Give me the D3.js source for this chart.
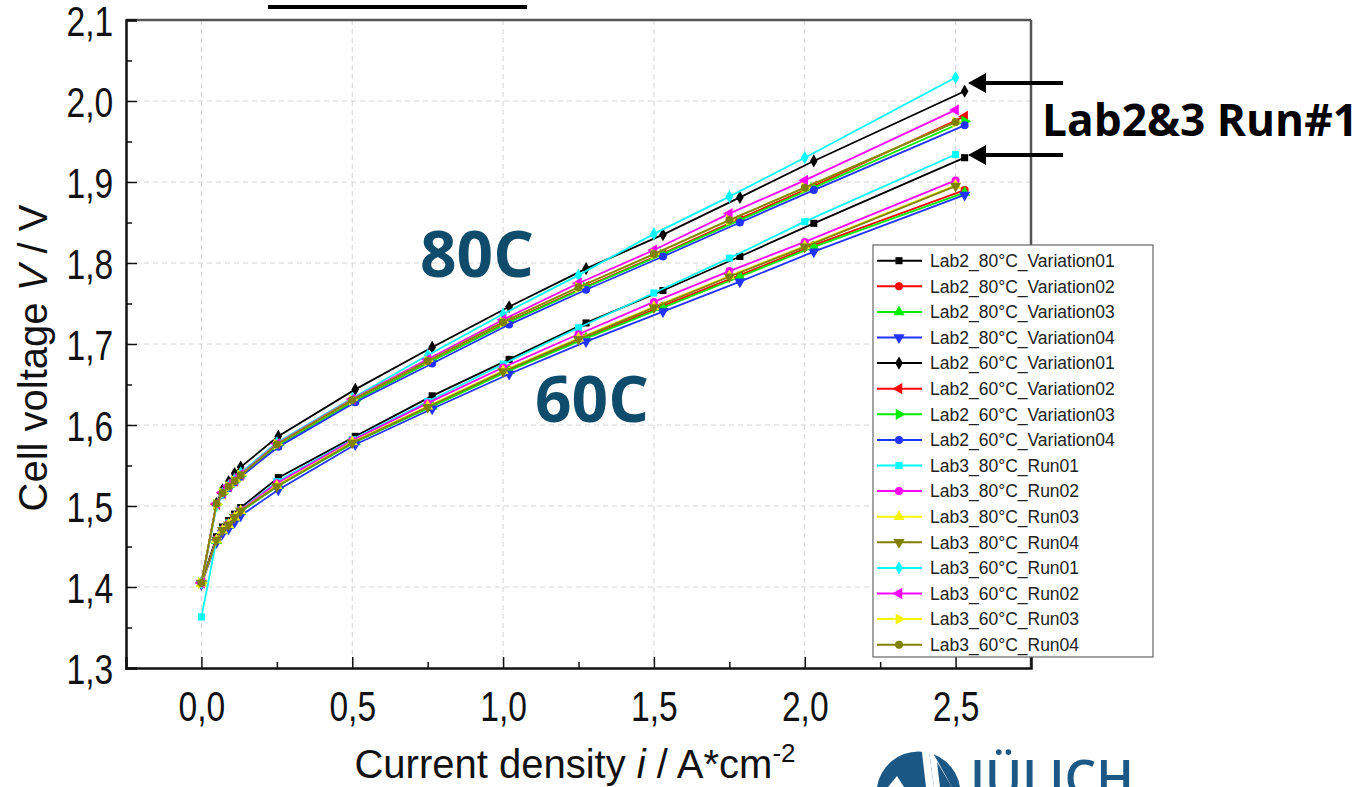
<!DOCTYPE html>
<html>
<head>
<meta charset="utf-8">
<script src="https://cdn.jsdelivr.net/npm/d3@7"></script>
<style>
  html, body { margin: 0; padding: 0; background: #fff; }
  svg { display: block; }
</style>
</head>
<body>
<svg id="chart" width="1362" height="787"></svg>
<script>
// Polarisation curves, current density in A/cm², cell voltage in V
const lab2Current = [0, 0.05, 0.07, 0.09, 0.11, 0.13, 0.255, 0.51, 0.765, 1.02, 1.275, 1.53, 1.785, 2.03, 2.53];
const lab3Current = [0, 0.05, 0.07, 0.09, 0.11, 0.13, 0.25, 0.5, 0.75, 1.0, 1.25, 1.5, 1.75, 2.0, 2.5];

const lab2_80_v01 = [1.405, 1.462, 1.474, 1.482, 1.490, 1.498, 1.535, 1.586, 1.636, 1.681, 1.726, 1.766, 1.808, 1.849, 1.930];
const lab2_80_v02 = [1.404, 1.458, 1.470, 1.477, 1.486, 1.494, 1.526, 1.580, 1.624, 1.668, 1.708, 1.747, 1.785, 1.822, 1.890];
const lab2_80_v03 = [1.404, 1.457, 1.469, 1.476, 1.485, 1.493, 1.525, 1.579, 1.623, 1.667, 1.707, 1.745, 1.783, 1.820, 1.887];
const lab2_80_v04 = [1.403, 1.455, 1.466, 1.472, 1.480, 1.488, 1.520, 1.576, 1.620, 1.663, 1.703, 1.740, 1.777, 1.814, 1.884];
const lab2_60_v01 = [1.405, 1.503, 1.520, 1.530, 1.540, 1.548, 1.586, 1.644, 1.696, 1.746, 1.793, 1.835, 1.881, 1.926, 2.012];
const lab2_60_v02 = [1.405, 1.502, 1.516, 1.524, 1.531, 1.538, 1.576, 1.631, 1.680, 1.728, 1.771, 1.812, 1.855, 1.895, 1.981];
const lab2_60_v03 = [1.405, 1.502, 1.515, 1.523, 1.530, 1.537, 1.575, 1.630, 1.679, 1.727, 1.770, 1.811, 1.853, 1.893, 1.975];
const lab2_60_v04 = [1.404, 1.501, 1.514, 1.522, 1.529, 1.536, 1.573, 1.628, 1.676, 1.724, 1.767, 1.808, 1.850, 1.890, 1.970];
const lab3_80_r01 = [1.363, 1.458, 1.471, 1.479, 1.487, 1.495, 1.530, 1.582, 1.629, 1.675, 1.720, 1.763, 1.806, 1.851, 1.934];
const lab3_80_r02 = [1.404, 1.459, 1.471, 1.478, 1.487, 1.495, 1.528, 1.581, 1.627, 1.671, 1.712, 1.752, 1.790, 1.826, 1.902];
const lab3_80_r03 = [1.404, 1.458, 1.470, 1.477, 1.486, 1.494, 1.525, 1.579, 1.623, 1.667, 1.707, 1.746, 1.784, 1.821, 1.896];
const lab3_80_r04 = [1.405, 1.458, 1.470, 1.477, 1.486, 1.494, 1.524, 1.578, 1.622, 1.666, 1.706, 1.745, 1.783, 1.820, 1.895];
const lab3_60_r01 = [1.405, 1.500, 1.516, 1.525, 1.533, 1.541, 1.578, 1.633, 1.686, 1.737, 1.785, 1.836, 1.882, 1.930, 2.029];
const lab3_60_r02 = [1.405, 1.503, 1.517, 1.525, 1.532, 1.539, 1.577, 1.632, 1.681, 1.730, 1.775, 1.816, 1.861, 1.902, 1.989];
const lab3_60_r03 = [1.405, 1.502, 1.516, 1.524, 1.531, 1.538, 1.576, 1.631, 1.679, 1.727, 1.770, 1.811, 1.853, 1.893, 1.974];
const lab3_60_r04 = [1.405, 1.503, 1.516, 1.524, 1.531, 1.538, 1.576, 1.631, 1.679, 1.727, 1.770, 1.811, 1.853, 1.893, 1.974];

const seriesNames = [
  "Lab2_80°C_Variation01", "Lab2_80°C_Variation02", "Lab2_80°C_Variation03", "Lab2_80°C_Variation04",
  "Lab2_60°C_Variation01", "Lab2_60°C_Variation02", "Lab2_60°C_Variation03", "Lab2_60°C_Variation04",
  "Lab3_80°C_Run01", "Lab3_80°C_Run02", "Lab3_80°C_Run03", "Lab3_80°C_Run04",
  "Lab3_60°C_Run01", "Lab3_60°C_Run02", "Lab3_60°C_Run03", "Lab3_60°C_Run04"
];
const seriesValues = [
  lab2_80_v01, lab2_80_v02, lab2_80_v03, lab2_80_v04,
  lab2_60_v01, lab2_60_v02, lab2_60_v03, lab2_60_v04,
  lab3_80_r01, lab3_80_r02, lab3_80_r03, lab3_80_r04,
  lab3_60_r01, lab3_60_r02, lab3_60_r03, lab3_60_r04
];
const seriesColors = [
  "#000000", "#ff0000", "#00ee00", "#2233ff",
  "#000000", "#ff0000", "#00ee00", "#2233ff",
  "#00ffff", "#ff00ff", "#f5f500", "#808000",
  "#00ffff", "#ff00ff", "#f5f500", "#808000"
];
const seriesShapes = [
  "square", "circle", "up", "down",
  "diamond", "left", "right", "circle",
  "square", "circle", "up", "down",
  "diamond", "left", "right", "circle"
];

const xTicks = [0, 0.5, 1.0, 1.5, 2.0, 2.5];
const yTicks = [1.3, 1.4, 1.5, 1.6, 1.7, 1.8, 1.9, 2.0, 2.1];

const svg = d3.select("#chart");
const plotLeft = 126, plotRight = 1031, plotTop = 20, plotBottom = 668;

const x = d3.scaleLinear().domain([-0.25, 2.75]).range([plotLeft, plotRight]);
const y = d3.scaleLinear().domain([1.3, 2.1]).range([plotBottom, plotTop]);
const commaFmt = v => d3.format(".1f")(v).replace(".", ",");

// faint dashed grid
const grid = svg.append("g");
grid.selectAll("line.gx").data(xTicks).join("line")
  .attr("x1", d => x(d)).attr("x2", d => x(d))
  .attr("y1", plotTop).attr("y2", plotBottom)
  .attr("stroke", "#d4d4d4").attr("stroke-width", 1).attr("stroke-dasharray", "5,4");
grid.selectAll("line.gy").data(yTicks.filter(v => v > 1.3 && v < 2.1)).join("line")
  .attr("x1", plotLeft).attr("x2", plotRight)
  .attr("y1", d => y(d)).attr("y2", d => y(d))
  .attr("stroke", "#d4d4d4").attr("stroke-width", 1).attr("stroke-dasharray", "5,4");

// frame: top and right
svg.append("line").attr("x1", plotLeft).attr("x2", plotRight).attr("y1", plotTop).attr("y2", plotTop)
  .attr("stroke", "#555").attr("stroke-width", 2.5);
svg.append("line").attr("x1", plotRight).attr("x2", plotRight).attr("y1", plotTop).attr("y2", plotBottom)
  .attr("stroke", "#555").attr("stroke-width", 2.5);

// axes with inward ticks
const xAxis = svg.append("g").attr("transform", `translate(0,${plotBottom})`)
  .call(d3.axisBottom(x).tickValues(xTicks).tickFormat(commaFmt).tickSize(-11).tickPadding(22));
const yAxis = svg.append("g").attr("transform", `translate(${plotLeft},0)`)
  .call(d3.axisLeft(y).tickValues(yTicks).tickFormat(commaFmt).tickSize(-11).tickPadding(16));
svg.append("g").attr("transform", `translate(0,${plotBottom})`)
  .call(d3.axisBottom(x).tickValues([0.25, 0.75, 1.25, 1.75, 2.25]).tickFormat("").tickSize(-6))
  .select(".domain").remove();
svg.append("g").attr("transform", `translate(${plotLeft},0)`)
  .call(d3.axisLeft(y).tickValues([1.35, 1.45, 1.55, 1.65, 1.75, 1.85, 1.95, 2.05]).tickFormat("").tickSize(-6))
  .select(".domain").remove();

svg.selectAll(".tick line").attr("stroke", "#111").attr("stroke-width", 1.5);
[xAxis, yAxis].forEach(a => {
  a.select(".domain").attr("stroke", "#111").attr("stroke-width", 2.5);
  a.selectAll(".tick text")
    .attr("font-family", "'Liberation Sans', Arial, sans-serif")
    .attr("font-size", 42).attr("fill", "#111")
    .attr("transform", "scale(0.8,1)");
});
yAxis.selectAll(".tick text").attr("dy", "0.36em");
xAxis.selectAll(".tick text").attr("dy", "0.75em");

// axis titles
const yTitle = svg.append("text")
  .attr("transform", "translate(47,358) rotate(-90)")
  .attr("text-anchor", "middle")
  .attr("font-family", "'Liberation Sans', Arial, sans-serif")
  .attr("font-size", 40).attr("fill", "#111");
yTitle.append("tspan").text("Cell voltage ");
yTitle.append("tspan").attr("font-style", "italic").text("V");
yTitle.append("tspan").text(" / V");

const xTitle = svg.append("text")
  .attr("x", 575).attr("y", 778)
  .attr("text-anchor", "middle")
  .attr("font-family", "'Liberation Sans', Arial, sans-serif")
  .attr("font-size", 40).attr("fill", "#111");
xTitle.append("tspan").text("Current density ");
xTitle.append("tspan").attr("font-style", "italic").text("i");
xTitle.append("tspan").text(" / A*cm");
xTitle.append("tspan").attr("font-size", 26).attr("dy", -16).text("-2");

// marker shapes
function markerPath(shape) {
  const sym = d3.symbol();
  if (shape === "square") return { d: sym.type(d3.symbolSquare).size(50)(), rot: 0 };
  if (shape === "circle") return { d: sym.type(d3.symbolCircle).size(50)(), rot: 0 };
  if (shape === "diamond") return { d: sym.type(d3.symbolDiamond).size(50)(), rot: 0 };
  const tri = sym.type(d3.symbolTriangle).size(55)();
  const rot = { up: 0, down: 180, left: -90, right: 90 }[shape];
  return { d: tri, rot };
}

const line = d3.line().x(d => x(d[0])).y(d => y(d[1]));
const plot = svg.append("g");
seriesValues.forEach((vals, i) => {
  const cur = seriesNames[i].startsWith("Lab2") ? lab2Current : lab3Current;
  const pts = vals.map((v, k) => [cur[k], v]);
  const g = plot.append("g");
  g.append("path").attr("d", line(pts))
    .attr("fill", "none").attr("stroke", seriesColors[i]).attr("stroke-width", 1.8);
  const m = markerPath(seriesShapes[i]);
  g.selectAll("path.m").data(pts).join("path").attr("class", "m")
    .attr("d", m.d)
    .attr("transform", d => `translate(${x(d[0])},${y(d[1])}) rotate(${m.rot})`)
    .attr("fill", seriesColors[i]);
});

// legend
const lg = svg.append("g");
const lgX = 873, lgY = 245, lgW = 280, lgH = 412;
lg.append("rect").attr("x", lgX).attr("y", lgY).attr("width", lgW).attr("height", lgH)
  .attr("fill", "#fff").attr("stroke", "#666").attr("stroke-width", 1.2);
seriesNames.forEach((name, i) => {
  const cy = 260.7 + i * 25.6;
  const row = lg.append("g");
  row.append("line").attr("x1", 877).attr("x2", 922).attr("y1", cy).attr("y2", cy)
    .attr("stroke", seriesColors[i]).attr("stroke-width", 2);
  const m = markerPath(seriesShapes[i]);
  row.append("path").attr("d", m.d)
    .attr("transform", `translate(899,${cy}) rotate(${m.rot})`)
    .attr("fill", seriesColors[i]);
  row.append("text").attr("x", 930).attr("y", cy).attr("dy", "0.36em")
    .attr("font-family", "'Liberation Sans', Arial, sans-serif")
    .attr("font-size", 17.5).attr("fill", "#222").text(name);
});

// temperature labels
const ann = svg.append("g")
  .attr("font-family", "'Open Sans', sans-serif").attr("font-weight", 700).attr("fill", "#0f4c6b");
ann.append("text").attr("x", 420).attr("y", 277).attr("font-size", 64).text("80C");
ann.append("text").attr("x", 535).attr("y", 422).attr("font-size", 64).text("60C");

// run #1 callout with arrows
svg.append("text").attr("x", 1042).attr("y", 136)
  .attr("font-family", "'Open Sans', sans-serif").attr("font-weight", 700)
  .attr("font-size", 45).attr("fill", "#000")
  .attr("textLength", 316).attr("lengthAdjust", "spacingAndGlyphs")
  .text("Lab2&3 Run#1");
[83, 155].forEach(ay => {
  svg.append("line").attr("x1", 1063).attr("x2", 980).attr("y1", ay).attr("y2", ay)
    .attr("stroke", "#000").attr("stroke-width", 4);
  svg.append("path").attr("d", `M968,${ay} L986,${ay - 10} L986,${ay + 10} Z`).attr("fill", "#000");
});

// stray bar above the frame
svg.append("line").attr("x1", 268).attr("x2", 527).attr("y1", 7).attr("y2", 7)
  .attr("stroke", "#000").attr("stroke-width", 4);

// institute mark at the bottom edge
const logo = svg.append("g");
logo.append("path")
  .attr("d", "M877,787 A42,42 0 0 1 960,787 Z")
  .attr("fill", "#1b5886");
logo.append("path").attr("d", "M921,744 L928,744 L934,787 L926,787 Z").attr("fill", "#fff");
logo.append("path").attr("d", "M928,744 L952,787 L934,787 Z").attr("fill", "#fff");
logo.append("path").attr("d", "M937,762 L952,787 L940,787 Z").attr("fill", "#1b5886");
logo.append("path").attr("d", "M888,787 L897,776 L904,787 Z").attr("fill", "#fff");
logo.append("text").attr("x", 970).attr("y", 796)
  .attr("font-family", "'Open Sans', sans-serif").attr("font-weight", 600)
  .attr("font-size", 50).attr("fill", "#1b5886").text("JÜLICH");
</script>
</body>
</html>
